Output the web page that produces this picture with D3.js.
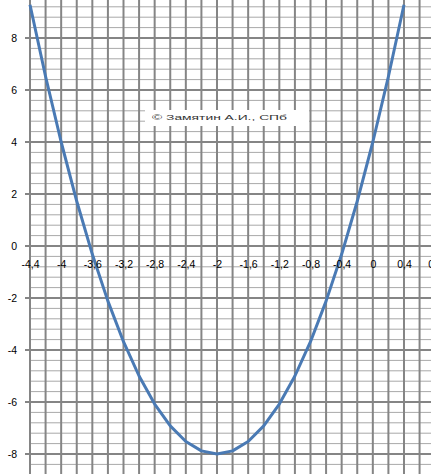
<!DOCTYPE html>
<html><head><meta charset="utf-8">
<script src="https://cdn.jsdelivr.net/npm/d3@7"></script>
<style>
html,body{margin:0;padding:0;background:#fff;overflow:hidden;}
svg{display:block;}
text{font-family:"Liberation Sans",Arial,sans-serif;}
</style></head>
<body><svg id="c" width="431" height="474"></svg>
<script>
const xValues = [-4.4,-4.2,-4.0,-3.8,-3.6,-3.4,-3.2,-3.0,-2.8,-2.6,-2.4,-2.2,-2.0,-1.8,-1.6,-1.4,-1.2,-1.0,-0.8,-0.6,-0.4,-0.2,0.0,0.2,0.4];
const yValues = [9.28,6.52,4.0,1.72,-0.32,-2.12,-3.68,-5.0,-6.08,-6.92,-7.52,-7.88,-8.0,-7.88,-7.52,-6.92,-6.08,-5.0,-3.68,-2.12,-0.32,1.72,4.0,6.52,9.28];
const xTicks = [-4.4,-4.0,-3.6,-3.2,-2.8,-2.4,-2.0,-1.6,-1.2,-0.8,-0.4,0,0.4,0.8];
const yTicks = [-8,-6,-4,-2,0,2,4,6,8];
const watermark = "© Замятин А.И., СПб";

const svg = d3.select("#c");
const px = 15.583;
const x = d3.scaleLinear().domain([-4.4, 0.8]).range([30, 30 + 26*px]);
const y = d3.scaleLinear().domain([-8.8, 9.6]).range([246 + 8.8*26, 246 - 9.6*26]);

const fmt = d => (Math.abs(d) < 1e-9 ? "0" : String(+d.toFixed(1)).replace(".", ","));

// minor horizontal grid (every 0.4)
const minorY = d3.range(-22, 25).map(i => +(i*0.4).toFixed(1)).filter(v => Math.abs(v % 2) > 1e-6 && Math.abs(Math.abs(v % 2) - 2) > 1e-6);
svg.append("g").selectAll("line").data(minorY).join("line")
  .attr("x1", x(-4.4)).attr("x2", 431)
  .attr("y1", d => y(d)).attr("y2", d => y(d))
  .attr("stroke", "#a9a9a9").attr("stroke-width", 1);

// vertical grid (every 0.2)
const vLines = d3.range(0, 27).map(i => -4.4 + i*0.2);
svg.append("g").selectAll("line").data(vLines).join("line")
  .attr("x1", d => x(d)).attr("x2", d => x(d))
  .attr("y1", 0).attr("y2", 474)
  .attr("stroke", "#858585").attr("stroke-width", 2);

// major horizontal grid (every 2)
const majorY = d3.range(-8, 10, 2).concat([]);
svg.append("g").selectAll("line").data(majorY).join("line")
  .attr("x1", x(-4.4) - 5).attr("x2", 431)
  .attr("y1", d => y(d)).attr("y2", d => y(d))
  .attr("stroke", "#858585").attr("stroke-width", 2);

// watermark box
svg.append("rect").attr("x", 145).attr("y", 110).attr("width", 164).attr("height", 16).attr("fill", "#fff");
svg.append("text").attr("x", 152).attr("y", 119.5).attr("font-size", 7.5).attr("fill", "#333")
  .attr("textLength", 135).attr("lengthAdjust", "spacingAndGlyphs").text(watermark);

// curve
svg.append("path")
  .datum(xValues.map((v, i) => [v, yValues[i]]))
  .attr("fill", "none").attr("stroke", "#4a7ab4").attr("stroke-width", 3)
  .attr("stroke-linejoin", "round")
  .attr("d", d3.line().x(d => x(d[0])).y(d => y(d[1])));

// x axis labels
const xa = svg.append("g").attr("transform", `translate(0,${y(0)})`)
  .call(d3.axisBottom(x).tickValues(xTicks).tickFormat(fmt).tickSize(0).tickPadding(14.5));
xa.select(".domain").remove();
xa.selectAll("text").attr("font-size", 10.5).attr("fill", "#000").attr("font-family", "Liberation Sans, Arial, sans-serif");

// y axis labels
const ya = svg.append("g").attr("transform", `translate(${x(-4.4)},0)`)
  .call(d3.axisLeft(y).tickValues(yTicks).tickFormat(fmt).tickSize(0).tickPadding(13));
ya.select(".domain").remove();
ya.selectAll("text").attr("font-size", 10.5).attr("fill", "#000").attr("font-family", "Liberation Sans, Arial, sans-serif");
</script></body></html>
